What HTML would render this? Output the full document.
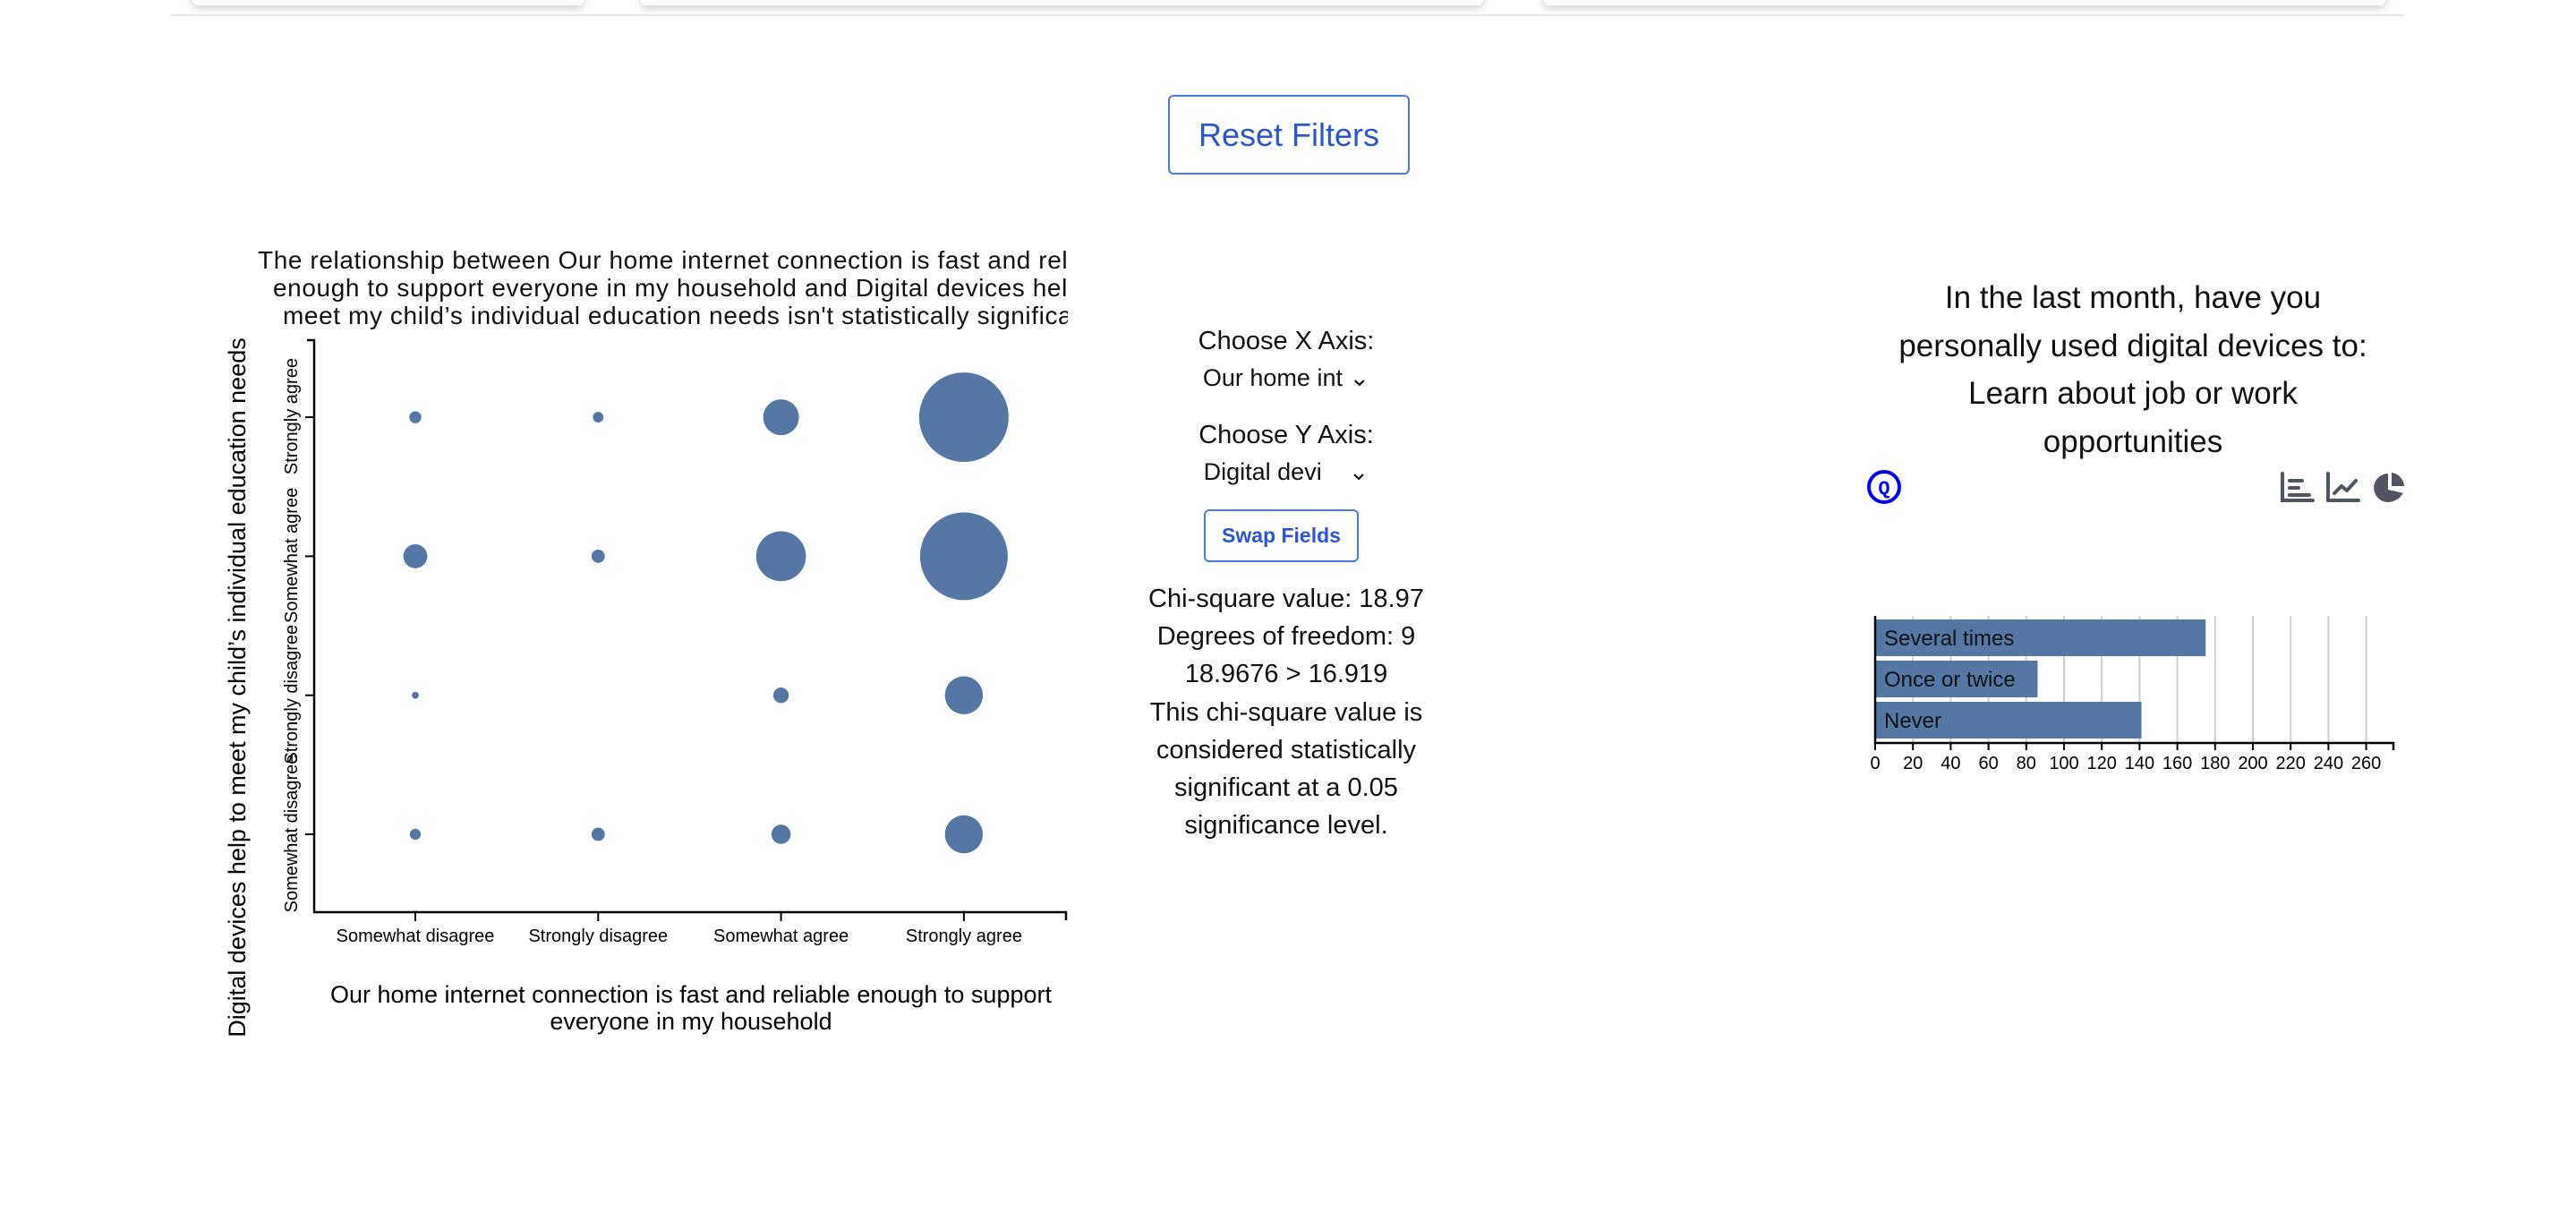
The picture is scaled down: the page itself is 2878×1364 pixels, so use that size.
<!DOCTYPE html>
<html><head><meta charset="utf-8">
<style>
html,body{margin:0;padding:0;background:#fff;width:2878px;height:1364px;overflow:hidden;font-family:"Liberation Sans",sans-serif;color:#111}
.abs{position:absolute}
.card{position:absolute;top:-20px;height:26px;background:#fff;box-shadow:0 4px 10px rgba(0,0,0,0.18);border-radius:6px}
.rule{position:absolute;left:191px;top:16px;width:2495px;height:2px;background:#e6e6ea}
.btn{position:absolute;border:2px solid #4a7be0;border-radius:6px;background:#fff;color:#2c55d0;text-align:center;box-sizing:border-box;font-family:"Liberation Sans",sans-serif}
.mid{position:absolute;left:1237px;width:400px;text-align:center;font-size:29px}
</style></head><body>
<div class="card" style="left:215px;width:437px"></div>
<div class="card" style="left:716px;width:941px"></div>
<div class="card" style="left:1725px;width:940px"></div>
<div class="rule"></div>

<div class="btn" style="left:1305px;top:106px;width:270px;height:89px;line-height:85px;font-size:36px">Reset Filters</div>

<svg id="scatter" class="abs" style="left:0;top:0" width="1240" height="1200"></svg>

<div class="mid" style="top:365px">Choose X Axis:</div>
<div class="mid" style="top:407px;font-size:27px">Our home int &#8964;</div>
<div class="mid" style="top:470px">Choose Y Axis:</div>
<div class="mid" style="top:512px;font-size:27px">Digital devi &nbsp;&nbsp;&nbsp;&#8964;</div>
<div class="btn" style="left:1345px;top:569px;width:173px;height:59px;line-height:55px;font-size:23px;font-weight:bold">Swap Fields</div>
<div class="mid" style="top:648px;line-height:42.2px">Chi-square value: 18.97<br>Degrees of freedom: 9<br>18.9676 &gt; 16.919<br>This chi-square value is<br>considered statistically<br>significant at a 0.05<br>significance level.</div>

<div class="abs" style="left:2033px;width:700px;top:306px;text-align:center;font-size:35px;line-height:53.5px">In the last month, have you<br>personally used digital devices to:<br>Learn about job or work<br>opportunities</div>

<svg class="abs" style="left:2084px;top:523px" width="44" height="44"><circle cx="21" cy="21" r="17" fill="none" stroke="#0000ee" stroke-width="4"/><text x="21" y="29" text-anchor="middle" font-family="Liberation Mono" font-weight="bold" font-size="22" fill="#0000ee">Q</text></svg>
<svg class="abs" style="left:2546px;top:525px" width="150" height="40">
 <g fill="none" stroke="#4f5562" stroke-width="4" stroke-linecap="round"><path d="M4 4 V34 H38"/><path d="M12 12 H26 M12 20 H22 M12 28 H34"/></g>
 <g fill="none" stroke="#4f5562" stroke-width="4" stroke-linecap="round" stroke-linejoin="round"><path d="M55 4 V34 H89"/><path d="M62 26 L70 18 L76 23 L86 12"/></g>
 <g fill="#4f5562"><path d="M122 4 A16 16 0 1 0 137 26 L122 22 Z"/><path d="M126 3 A16 16 0 0 1 140 18 L126 18 Z"/><path d="M127 23 L139 26 L133 33 Z"/></g>
</svg>

<svg id="bars" class="abs" style="left:2060px;top:670px" width="680" height="220"></svg>

<script>
var NS="http://www.w3.org/2000/svg";
function mk(p,t,a){var e=document.createElementNS(NS,t);for(var k in a)e.setAttribute(k,a[k]);p.appendChild(e);return e;}

// ---- bubble chart data ----
var xCats=["Somewhat disagree","Strongly disagree","Somewhat agree","Strongly agree"];
var yCats=["Somewhat disagree","Strongly disagree","Somewhat agree","Strongly agree"];
var rowStronglyAgree=[1.8,1.4,16,100];
var rowSomewhatAgree=[7.2,2.2,31,96];
var rowStronglyDisagree=[0.6,0,3,18];
var rowSomewhatDisagree=[1.5,2.2,4.6,18];
var titleLines=["The relationship between Our home internet connection is fast and reliable","enough to support everyone in my household and Digital devices help to","meet my child\u2019s individual education needs isn't statistically significant"];

var sv=document.getElementById('scatter');
var L=351,R=1191,T=380,B=1019;
function xPos(i){return 464+i*204.3;}
function yPos(i){return 932-i*155.3;}
function rad(v){return 5*Math.sqrt(v);}
var cp=mk(sv,'clipPath',{id:'tclip'});mk(cp,'rect',{x:0,y:0,width:1193,height:400});
var tg=mk(sv,'g',{'clip-path':'url(#tclip)'});
var tx=[288,305,316];
titleLines.forEach(function(s,i){var t=mk(tg,'text',{x:tx[i],y:300+i*31,'font-size':28,'letter-spacing':0.6,fill:'#111'});t.textContent=s;

});
mk(sv,'path',{d:'M'+(L-8)+' '+T+' H'+L+' V'+B+' H'+R+' V'+(B+9),fill:'none',stroke:'#000','stroke-width':2.5});
xCats.forEach(function(c,i){var x=xPos(i);mk(sv,'line',{x1:x,x2:x,y1:B,y2:B+10,stroke:'#000','stroke-width':2});
var t=mk(sv,'text',{x:x,y:B+33,'text-anchor':'middle','font-size':20});t.textContent=c;

});
yCats.forEach(function(c,i){var y=yPos(i);mk(sv,'line',{x1:L-10,x2:L,y1:y,y2:y,stroke:'#000','stroke-width':2});
var t=mk(sv,'text',{x:0,y:0,'text-anchor':'middle','font-size':20,transform:'translate(332,'+(y-1)+') rotate(-90)'});t.textContent=c;

});
var rows=[rowSomewhatDisagree,rowStronglyDisagree,rowSomewhatAgree,rowStronglyAgree];
rows.forEach(function(row,j){row.forEach(function(v,i){if(v<=0)return;
var c=mk(sv,'circle',{cx:xPos(i),cy:yPos(j),r:rad(v),fill:'#5577a5'});

});});
var xt=mk(sv,'text',{x:772,y:1120,'text-anchor':'middle','font-size':27});xt.textContent="Our home internet connection is fast and reliable enough to support";


var xt2=mk(sv,'text',{x:772,y:1150,'text-anchor':'middle','font-size':27});xt2.textContent="everyone in my household";


var yt=mk(sv,'text',{x:0,y:0,'text-anchor':'middle','font-size':27,transform:'translate(274,768) rotate(-90)'});yt.textContent="Digital devices help to meet my child\u2019s individual education needs";



// ---- bar chart data ----
var barCats=["Several times","Once or twice","Never"];
var barVals=[175,86,141];
var barTicks=[0,20,40,60,80,100,120,140,160,180,200,220,240,260];
var bs=document.getElementById('bars');
var x0=35,unit=2.11,ax=160,top0=18;
function bx(v){return x0+v*unit;}
barTicks.forEach(function(t){if(t>0)mk(bs,'line',{x1:bx(t),x2:bx(t),y1:top0,y2:ax,stroke:'#cfcfcf','stroke-width':2});});
barCats.forEach(function(c,i){var y=22+i*46;
var r=mk(bs,'rect',{x:x0,y:y,width:bx(barVals[i])-x0,height:41,fill:'#5577a5'});


var t=mk(bs,'text',{x:x0+10,y:y+29,'font-size':24,fill:'#111'});t.textContent=c;

});
mk(bs,'path',{d:'M'+x0+' '+top0+' V'+ax+' H614 V'+(ax+8),fill:'none',stroke:'#000','stroke-width':2.5});
barTicks.forEach(function(t){var x=bx(t);mk(bs,'line',{x1:x,x2:x,y1:ax,y2:ax+8,stroke:'#000','stroke-width':2});
var l=mk(bs,'text',{x:x,y:ax+29,'text-anchor':'middle','font-size':20});l.textContent=t;

});
</script>
</body></html>
